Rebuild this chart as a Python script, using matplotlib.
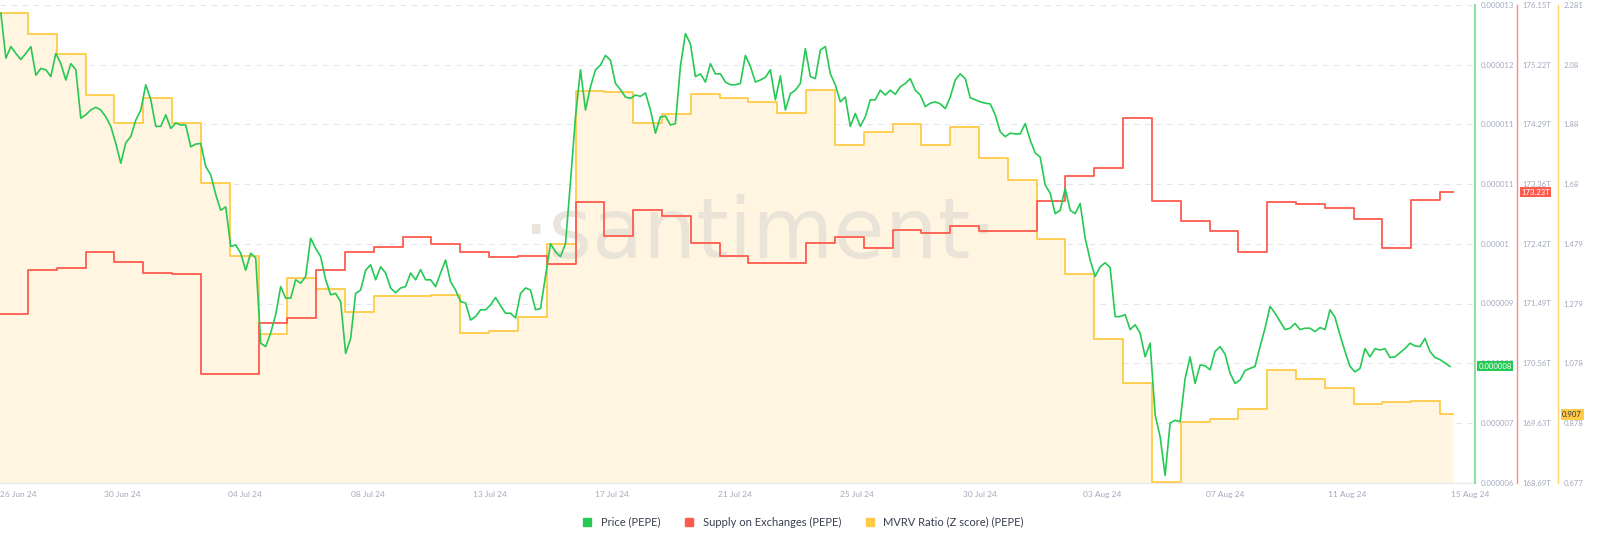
import numpy as np
import matplotlib
matplotlib.use('Agg')
import matplotlib.pyplot as plt
from matplotlib.lines import Line2D

plt.rcParams['font.family'] = ['Lato', 'DejaVu Sans']

# price in micro-units (x 1e-6), sampled evenly over the period
price_u = [
    12.88, 12.22, 12.39, 12.29, 12.20, 12.29, 12.39, 11.97, 12.07, 12.05, 11.95, 12.29, 12.14, 11.90, 12.14, 12.05,
    11.34, 11.39, 11.46, 11.50, 11.46, 11.36, 11.22, 10.97, 10.68, 10.98, 11.07, 11.31, 11.46, 11.83, 11.61, 11.22,
    11.22, 11.39, 11.19, 11.27, 11.24, 11.24, 10.92, 10.96, 10.97, 10.63, 10.51, 10.22, 9.99, 10.04, 9.46, 9.48,
    9.36, 9.11, 9.36, 9.29, 8.04, 7.99, 8.19, 8.46, 8.87, 8.70, 8.70, 8.97, 8.92, 9.02, 9.58, 9.43,
    9.31, 8.97, 8.75, 8.77, 8.65, 7.89, 8.11, 8.77, 8.82, 9.11,
    9.19, 8.97, 9.16, 9.07, 8.85, 8.78, 8.85, 8.87, 9.07, 8.97, 9.12, 8.97, 8.97, 8.87, 9.07, 9.26,
    8.94, 8.82, 8.65, 8.63, 8.38, 8.43, 8.53, 8.53, 8.60, 8.71, 8.59, 8.48, 8.48, 8.41, 8.77, 8.85,
    8.82, 8.53, 8.55, 9.02, 9.50, 9.38, 9.31, 9.50, 10.41, 11.36, 12.05, 11.46, 11.80, 12.05, 12.12, 12.26,
    12.19, 11.85, 11.76, 11.65, 11.63, 11.68, 11.66, 11.71, 11.46, 11.12, 11.36, 11.37, 11.24, 11.26, 12.10, 12.58,
    12.43, 11.95, 11.99, 11.87, 12.14, 11.99, 11.99, 11.87,
    11.83, 11.83, 11.85, 12.26, 12.10, 11.87, 11.90, 11.94, 12.05, 11.61, 11.96, 11.46, 11.70, 11.75, 11.85, 12.36,
    11.95, 11.92, 12.34, 12.39, 11.99, 11.83, 11.58, 11.65, 11.22, 11.41, 11.22, 11.36, 11.61, 11.61, 11.75, 11.68,
    11.75, 11.69, 11.80, 11.85, 11.92, 11.75, 11.68, 11.51, 11.56, 11.58, 11.55, 11.48, 11.65, 11.90, 11.99, 11.92,
    11.64, 11.61, 11.58, 11.56, 11.55, 11.39, 11.14, 11.07, 11.12, 11.11, 11.11, 11.26, 11.02, 10.83, 10.77, 10.36,
    10.24, 9.94, 9.99, 10.31, 9.99, 9.94, 10.09, 9.58,
    9.26, 9.02, 9.16, 9.22, 9.15, 8.43, 8.43, 8.46, 8.24, 8.31, 8.19, 7.84, 8.04, 6.99, 6.67, 6.10,
    6.87, 6.91, 6.89, 7.52, 7.84, 7.45, 7.72, 7.71, 7.65, 7.92, 7.99, 7.88, 7.60, 7.45, 7.50, 7.64,
    7.67, 7.70, 7.99, 8.26, 8.58, 8.48, 8.36, 8.24, 8.26, 8.33, 8.24, 8.26, 8.26, 8.21, 8.27, 8.24,
    8.53, 8.42, 8.16, 7.92, 7.70, 7.62, 7.67, 7.96, 7.84, 7.96, 7.94, 7.96, 7.83, 7.84, 7.90, 7.96,
    8.04, 8.00, 7.99, 8.11, 7.92, 7.83, 7.80, 7.75, 7.70,
]

# daily values (step series), in trillions
supply_t = [
    171.34, 172.02, 172.05, 172.30, 172.15, 171.98, 171.96, 170.40, 170.40, 171.20, 171.27, 172.02, 172.30,
    172.38, 172.54, 172.43, 172.30, 172.22, 172.24, 172.12, 173.08, 172.55, 172.96, 172.86, 172.44, 172.24,
    172.13, 172.13, 172.44, 172.54, 172.37, 172.65, 172.60, 172.71, 172.63, 172.63, 173.10, 173.49, 173.61,
    174.39, 173.10, 172.79, 172.62, 172.30, 173.08, 173.05, 172.99, 172.82, 172.37, 173.11, 173.23,
]

mvrv = [
    2.254, 2.184, 2.116, 1.979, 1.885, 1.969, 1.885, 1.683, 1.438, 1.176, 1.364, 1.327, 1.250,
    1.304, 1.304, 1.307, 1.180, 1.186, 1.233, 1.478, 1.992, 1.989, 1.885, 1.915, 1.982, 1.969,
    1.955, 1.918, 1.996, 1.811, 1.855, 1.881, 1.811, 1.871, 1.767, 1.693, 1.495, 1.378, 1.159,
    1.012, 0.680, 0.881, 0.891, 0.924, 1.055, 1.025, 0.995, 0.941, 0.948, 0.951, 0.907,
]

date_labels = ['26 Jun 24', '30 Jun 24', '04 Jul 24', '08 Jul 24', '13 Jul 24', '17 Jul 24', '21 Jul 24',
               '25 Jul 24', '30 Jul 24', '03 Aug 24', '07 Aug 24', '11 Aug 24', '15 Aug 24']

price_ticks = ['0.000013', '0.000012', '0.000011', '0.000011', '0.00001', '0.000009', '0.000008', '0.000007', '0.000006']
supply_ticks = ['176.15T', '175.22T', '174.29T', '173.36T', '172.42T', '171.49T', '170.56T', '169.63T', '168.69T']
mvrv_ticks = ['2.281', '2.08', '1.88', '1.68', '1.479', '1.279', '1.078', '0.878', '0.677']

GREEN = '#26c953'
RED = '#ff5b4d'
YELLOW = '#ffcb47'
GREY = '#a4a9bd'
FS = 5.6

fig = plt.figure(figsize=(16, 5.42), dpi=100)
ax = fig.add_axes([0, (542 - 483) / 542, 1475 / 1600, 478 / 542])
ax2 = ax.twinx()
ax3 = ax.twinx()

price = np.array(price_u) * 1e-6
t_price = np.linspace(0.06, 50.34, len(price))
t_step = np.arange(len(mvrv), dtype=float)
t_step_ext = np.append(t_step, 50.45)

x0, x1 = 0.03, 51.21
for a in (ax, ax2, ax3):
    a.set_xlim(x0, x1)

ax.set_ylim(5.99e-6, 13.0e-6)
ax2.set_ylim(168.70, 176.15)
ax3.set_ylim(0.677, 2.281)

# layers: mvrv at bottom, supply middle, price on top
ax3.set_zorder(1)
ax2.set_zorder(2)
ax.set_zorder(3)
ax.patch.set_visible(False)
ax2.patch.set_visible(False)

mv_ext = mvrv + [mvrv[-1]]
ax3.fill_between(t_step_ext, mv_ext, 0, step='post', color='#fff5e1', lw=0)
ax3.plot(t_step_ext, mv_ext, drawstyle='steps-post', color=YELLOW, lw=1.3)
sp_ext = supply_t + [supply_t[-1]]
ax2.plot(t_step_ext, sp_ext, drawstyle='steps-post', color=RED, lw=1.3)
ax.plot(t_price, price, color=GREEN, lw=1.2)

ax3.text(0.515, 0.52, '\u00b7santiment\u00b7', transform=ax3.transAxes, ha='center', va='center',
         fontsize=60, color='#e6e1d6', alpha=0.85, family='DejaVu Sans')

# grid
tick_days = 0.03 + 4.25 * np.arange(13)
ax3.set_xticks(tick_days)
ax3.grid(True, color='#e3e6ef', ls=(0, (5, 5)), lw=0.8)
ax3.set_axisbelow(True)

# y ticks: 9 evenly spaced in each axis
n = len(price_ticks)
frac = 1 - np.arange(n) * (59.7 / 478)
ax.set_yticks(5.99e-6 + frac * (13.0e-6 - 5.99e-6))
ax.set_yticklabels(price_ticks)
ax2.set_yticks(168.70 + frac * (176.15 - 168.70))
ax2.set_yticklabels(supply_ticks)
ax3.set_yticks(0.677 + frac * (2.281 - 0.677))
ax3.set_yticklabels(mvrv_ticks)

ax.set_xticks(tick_days)
ax.set_xticklabels(date_labels)
ax.tick_params(axis='x', length=0, pad=6, labelsize=FS + 0.4, labelcolor=GREY)
for lab in ax.get_xticklabels()[:1]:
    lab.set_ha('left')
for a in (ax2, ax3):
    a.tick_params(axis='x', length=0, labelbottom=False)

for a, pos, col in ((ax, 1.0, '#8ee09e'), (ax2, 1517 / 1475, '#ff8a80'), (ax3, 1558 / 1475, '#ffd66e')):
    a.yaxis.tick_right()
    a.tick_params(axis='y', length=0, pad=4, labelsize=FS, labelcolor=GREY)
    for s in ('top', 'left', 'bottom'):
        a.spines[s].set_visible(False)
    a.spines['right'].set_position(('axes', pos))
    a.spines['right'].set_color(col)
    a.spines['right'].set_linewidth(1.5 if a is ax else 1.0)
ax3.spines['bottom'].set_visible(True)
ax3.spines['bottom'].set_color('#e8eaf0')

# current value tags
box = dict(boxstyle='square,pad=0.2', lw=0)
ax.annotate('0.000008', (1.0, price[-1]), xycoords=('axes fraction', 'data'), xytext=(2.5, 0),
            textcoords='offset points', va='center', fontsize=FS, color='white',
            bbox=dict(box, fc=GREEN))
ax2.annotate('173.23T', (1517 / 1475, supply_t[-1]), xycoords=('axes fraction', 'data'), xytext=(3, 0),
             textcoords='offset points', va='center', fontsize=FS, color='white',
             bbox=dict(box, fc=RED))
ax3.annotate('0.907', (1558 / 1475, mvrv[-1]), xycoords=('axes fraction', 'data'), xytext=(3, 0),
             textcoords='offset points', va='center', fontsize=FS, color='#333333',
             bbox=dict(box, fc=YELLOW))

handles = [Line2D([], [], marker='s', ls='', color=c, markersize=6) for c in (GREEN, RED, YELLOW)]
fig.legend(handles, ['Price (PEPE)', 'Supply on Exchanges (PEPE)', 'MVRV Ratio (Z score) (PEPE)'],
           loc='center', bbox_to_anchor=(0.5, 1 - 522 / 542), ncol=3, frameon=False,
           fontsize=8, labelcolor='#3a3f4f', handletextpad=0.2, columnspacing=1.6)

fig.savefig('out.png', dpi=100)
